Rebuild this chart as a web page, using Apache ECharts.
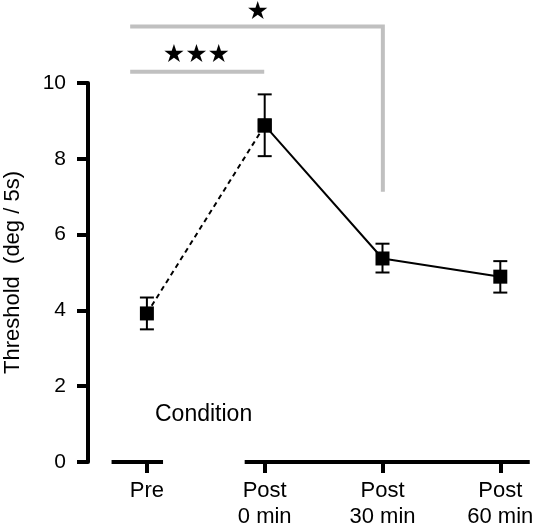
<!DOCTYPE html>
<html><head><meta charset="utf-8">
<script src="https://cdn.jsdelivr.net/npm/echarts@6/dist/echarts.min.js"></script>
<style>html,body{margin:0;padding:0;background:#fff}#c{width:533px;height:525px}</style>
</head><body><div id="c"></div>
<script>
const categories = ['Pre', 'Post\n0 min', 'Post\n30 min', 'Post\n60 min'];
const means = [3.92, 8.88, 5.37, 4.89];
const errLow = [3.50, 8.07, 5.00, 4.47];
const errHigh = [4.34, 9.70, 5.76, 5.30];
const yTicks = [0, 2, 4, 6, 8, 10];
const sigLabels = ['\u2605\u2605\u2605', '\u2605'];

const FONT = 'Liberation Sans, Arial, sans-serif';
const idx = categories.map((_, i) => i);
const gray = '#c0c0c0';

const chart = echarts.init(document.getElementById('c'));
chart.setOption({
  animation: false,
  backgroundColor: '#fff',
  grid: { left: 88, right: 3.25, top: 83, bottom: 63, containLabel: false, outerBoundsMode: 'none' },
  xAxis: {
    type: 'value', min: -0.5, max: 3.25,
    splitLine: { show: false },
    axisLine: { show: false, onZero: false },
    axisTick: { show: true, customValues: idx, length: 11, lineStyle: { color: '#000', width: 4 } },
    axisLabel: { customValues: idx, formatter: v => categories[Math.round(v)], color: '#000',
      fontFamily: FONT, fontSize: 22, lineHeight: 26, margin: 16 }
  },
  yAxis: {
    type: 'value', min: 0, max: 10, interval: 2,
    name: 'Threshold  (deg / 5s)', nameLocation: 'middle', nameGap: 64,
    nameTextStyle: { color: '#000', fontFamily: FONT, fontSize: 22 },
    splitLine: { show: false },
    axisLine: { show: true, onZero: false, lineStyle: { color: '#000', width: 4 } },
    axisTick: { show: true, length: 11, lineStyle: { color: '#000', width: 4 } },
    axisLabel: { color: '#000', fontFamily: FONT, fontSize: 21, margin: 22,
      customValues: yTicks }
  },
  series: [
    // broken x-axis line
    { type: 'line', clip: false, symbol: 'none', silent: true,
      lineStyle: { color: '#000', width: 4 }, data: [[-0.30, 0], [0.137, 0]] },
    { type: 'line', clip: false, symbol: 'none', silent: true,
      lineStyle: { color: '#000', width: 4 }, data: [[0.83, 0], [3.25, 0]] },
    // significance brackets
    { type: 'line', clip: false, symbol: 'none', silent: true,
      lineStyle: { color: gray, width: 4 }, data: [[-0.142, 10.30], [0.996, 10.30]] },
    { type: 'line', clip: false, symbol: 'none', silent: true,
      lineStyle: { color: gray, width: 4, join: 'miter' }, data: [[-0.142, 11.49], [2.003, 11.49], [2.003, 7.13]] },
    { type: 'scatter', clip: false, symbolSize: 1, itemStyle: { opacity: 0 }, silent: true,
      label: { show: true, position: 'inside', formatter: p => p.data.name, color: '#000', opacity: 1,
        fontSize: 25, fontFamily: 'DejaVu Sans' },
      data: [{ value: [0.42, 10.72], name: sigLabels[0] }, { value: [0.94, 11.87], name: sigLabels[1] }] },
    // error bars
    { type: 'custom', clip: false, z: 3,
      renderItem: (params, api) => {
        const x = api.value(0);
        const lo = api.coord([x, api.value(1)]);
        const hi = api.coord([x, api.value(2)]);
        const w = 7;
        const st = { stroke: '#000', lineWidth: 2 };
        return { type: 'group', children: [
          { type: 'line', shape: { x1: lo[0], y1: lo[1], x2: hi[0], y2: hi[1] }, style: st },
          { type: 'line', shape: { x1: lo[0] - w, y1: lo[1], x2: lo[0] + w, y2: lo[1] }, style: st },
          { type: 'line', shape: { x1: hi[0] - w, y1: hi[1], x2: hi[0] + w, y2: hi[1] }, style: st }
        ]};
      },
      data: idx.map(i => [i, errLow[i], errHigh[i]]) },
    // dashed Pre -> Post 0
    { type: 'line', z: 4, symbol: 'rect', symbolSize: 14, itemStyle: { color: '#000' },
      lineStyle: { color: '#000', width: 2, type: [5, 4] },
      data: [[0, means[0]], [1, means[1]]] },
    // solid Post 0 -> Post 60
    { type: 'line', z: 4, symbol: 'rect', symbolSize: 14, itemStyle: { color: '#000' },
      lineStyle: { color: '#000', width: 2 },
      data: [[1, means[1]], [2, means[2]], [3, means[3]]] }
  ],
  graphic: [
    { type: 'text', left: 155, top: 403, style: { text: 'Condition', fill: '#000', font: '23px ' + FONT } }
  ]
});
</script></body></html>
